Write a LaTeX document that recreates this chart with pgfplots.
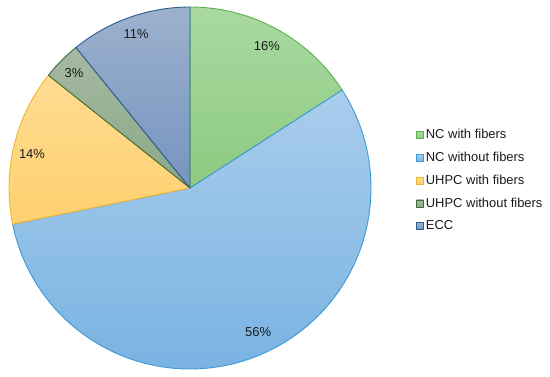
\documentclass[border=0pt]{standalone}
\usepackage{fontspec}
\setmainfont{Liberation Sans}
\usepackage{pgfplots}
\usepackage{pgfplotstable}
\pgfplotsset{compat=1.18}
\pgfplotstableread{
cat value
1 15.9
2 55.9
3 13.9
4 3.45
5 10.85
}\piedata
\definecolor{gTop}{HTML}{A9D9A1}\definecolor{gBot}{HTML}{8DCA82}\definecolor{gLine}{HTML}{5FB050}
\definecolor{bTop}{HTML}{AACDEC}\definecolor{bBot}{HTML}{79B3E2}\definecolor{bLine}{HTML}{3C9AD4}
\definecolor{yTop}{HTML}{FFDC92}\definecolor{yBot}{HTML}{FFD06E}\definecolor{yLine}{HTML}{F2B632}
\definecolor{dTop}{HTML}{A5B9A2}\definecolor{dBot}{HTML}{8BA887}\definecolor{dLine}{HTML}{3D6B37}
\definecolor{eTop}{HTML}{9CB1CD}\definecolor{eBot}{HTML}{7594C0}\definecolor{eLine}{HTML}{2C5F91}
\definecolor{txt}{HTML}{1A1A1A}
\begin{document}
\begin{tikzpicture}
\useasboundingbox (0,0) rectangle (550bp,377bp);
\pgfplotstablegetelem{0}{value}\of\piedata \let\vA\pgfplotsretval
\pgfplotstablegetelem{1}{value}\of\piedata \let\vB\pgfplotsretval
\pgfplotstablegetelem{2}{value}\of\piedata \let\vC\pgfplotsretval
\pgfplotstablegetelem{3}{value}\of\piedata \let\vD\pgfplotsretval
\pgfplotstablegetelem{4}{value}\of\piedata \let\vE\pgfplotsretval
\pgfmathsetmacro\aA{90}
\pgfmathsetmacro\aB{\aA-3.6*\vA}
\pgfmathsetmacro\aC{\aB-3.6*\vB}
\pgfmathsetmacro\aD{\aC-3.6*\vC}
\pgfmathsetmacro\aE{\aD-3.6*\vD}
\pgfmathsetmacro\aF{\aE-3.6*\vE}
\begin{axis}[
  at={(190bp,189bp)}, anchor=center,
  scale only axis, width=362bp, height=362bp,
  xmin=-1, xmax=1, ymin=-1, ymax=1,
  hide axis, clip=false,
  legend cell align=left,
  legend style={draw=none, fill=none, at={(1.124,0.521)}, anchor=west,
    font=\fontsize{13}{15}\selectfont, text=txt, row sep=8bp, inner sep=0pt},
  every axis plot/.append style={line width=0.9bp, line join=round},
]
\addplot[draw=gLine, top color=gTop, bottom color=gBot, domain=\aB:\aA, samples=80,
  legend image code/.code={\draw[gLine, line width=0.8bp, top color=gTop, bottom color=gBot] (0bp,-3.5bp) rectangle (7bp,3.5bp);}]
  ({cos(x)},{sin(x)}) -- (axis cs:0,0) -- cycle;
\addlegendentry{NC with fibers}
\addplot[draw=bLine, top color=bTop, bottom color=bBot, domain=\aC:\aB, samples=200,
  legend image code/.code={\draw[bLine, line width=0.8bp, top color=bTop, bottom color=bBot] (0bp,-3.5bp) rectangle (7bp,3.5bp);}]
  ({cos(x)},{sin(x)}) -- (axis cs:0,0) -- cycle;
\addlegendentry{NC without fibers}
\addplot[draw=yLine, top color=yTop, bottom color=yBot, domain=\aD:\aC, samples=80,
  legend image code/.code={\draw[yLine, line width=0.8bp, top color=yTop, bottom color=yBot] (0bp,-3.5bp) rectangle (7bp,3.5bp);}]
  ({cos(x)},{sin(x)}) -- (axis cs:0,0) -- cycle;
\addlegendentry{UHPC with fibers}
\addplot[draw=dLine, top color=dTop, bottom color=dBot, domain=\aE:\aD, samples=30,
  legend image code/.code={\draw[dLine, line width=0.8bp, top color=dTop, bottom color=dBot] (0bp,-3.5bp) rectangle (7bp,3.5bp);}]
  ({cos(x)},{sin(x)}) -- (axis cs:0,0) -- cycle;
\addlegendentry{UHPC without fibers}
\addplot[draw=eLine, top color=eTop, bottom color=eBot, domain=\aF:\aE, samples=60,
  legend image code/.code={\draw[eLine, line width=0.8bp, top color=eTop, bottom color=eBot] (0bp,-3.5bp) rectangle (7bp,3.5bp);}]
  ({cos(x)},{sin(x)}) -- (axis cs:0,0) -- cycle;
\addlegendentry{ECC}
\begin{scope}[every node/.style={font=\fontsize{13}{15}\selectfont, text=txt}]
\node at (axis cs:0.425,0.785) {16\%};
\node at (axis cs:0.376,-0.796) {56\%};
\node at (axis cs:-0.873,0.188) {14\%};
\node at (axis cs:-0.641,0.635) {3\%};
\node at (axis cs:-0.298,0.851) {11\%};
\end{scope}
\end{axis}
\end{tikzpicture}
\end{document}
